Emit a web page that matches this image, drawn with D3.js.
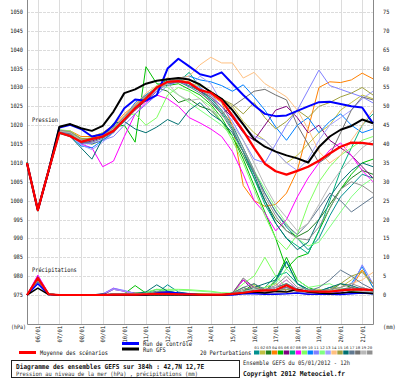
<!DOCTYPE html>
<html><head><meta charset="utf-8">
<script src="https://cdn.jsdelivr.net/npm/d3@7"></script>
<style>body{margin:0;background:#fff}svg{display:block}</style>
</head><body><svg id="c" width="400" height="378"></svg>
<script>
const hours = [0,12,24,36,48,60,72,84,96,108,120,132,144,156,168,180,192,204,216,228,240,252,264,276,288,300,312,324,336,348,360,372,384];
const dateLabels = ["06/01","07/01","08/01","09/01","10/01","11/01","12/01","13/01","14/01","15/01","16/01","17/01","18/01","19/01","20/01","21/01"];
const dateHours = [12,36,60,84,108,132,156,180,204,228,252,276,300,324,348,372];
const pressTicks = [1050,1045,1040,1035,1030,1025,1020,1015,1010,1005,1000,995,990,985,980,975];
const precTicks = [75,70,65,60,55,50,45,40,35,30,25,20,15,10,5,0];

const meanP = [1010,997.5,1008,1018,1017.1,1015.6,1016.4,1017,1018.5,1021.5,1024.5,1027,1030,1031.5,1031.7,1031.2,1029.3,1028.6,1026.5,1022.5,1018.5,1014,1009.8,1007.8,1006.9,1007.9,1009,1010.6,1012.5,1014.3,1015.4,1015.3,1014.9];
const gfsP = [1010,997.5,1008,1019.6,1020.3,1019.2,1018.5,1019.8,1023.6,1028.5,1029.5,1031,1031.8,1032.2,1032.5,1032.1,1030.8,1028.8,1027,1024,1020.2,1016.3,1014.3,1013,1012,1011.2,1010.1,1014.2,1017,1018.8,1019.8,1021.5,1020.5];
const ctlP = [1010,997.5,1008,1019.4,1020.1,1019,1017,1017.6,1020,1024.5,1026.8,1026.5,1028,1035,1037.6,1035.6,1033.5,1032.8,1034,1031,1028,1025.3,1023,1022.4,1022.6,1023.8,1025,1026.1,1026.2,1025.6,1025,1024.7,1020.5];

const p01 = [1010,997.8,1008,1018.5,1018,1015,1016.5,1017,1019,1022,1025,1027,1029.5,1031,1031.5,1030.5,1029,1027,1024,1020,1014,1008,1002,997,993,990,987,990,996,1001,1004,1007,1006];
const p02 = [1010,997.5,1007.5,1018,1017.5,1016,1016,1017.5,1019,1022,1024,1026.5,1029,1031.5,1032,1031,1030.5,1029,1027,1025,1021,1018,1016,1013,1010,1012,1015,1018,1020,1024,1026,1028,1027];
const p03 = [1009.8,997.2,1007.8,1018.2,1017.8,1015.5,1015,1016,1018,1021.5,1024.5,1027.5,1030,1029,1026,1027,1025,1024,1021,1017,1012,1006,1000,995,992,990.5,992,995,999,1003,1006,1008,1007];
const p04 = [1010,997.5,1008.2,1018.5,1018.5,1017,1017,1018,1020,1023,1025.5,1028,1030,1032.5,1032,1031.5,1029.5,1028,1026,1020,1004,1000,998.5,999,1002,1008,1019,1030,1031.5,1031.3,1032,1033.8,1032.3];
const p05 = [1010.2,997.6,1008,1018.3,1017,1016,1016.5,1017.5,1019.5,1020,1015.5,1035.5,1031,1030.5,1031,1029.5,1028,1025.5,1022,1017,1011,1004,997,990,982,985,986,992,998,1003,1007,1010,1011];
const p06 = [1010,997.4,1007.6,1018,1017.3,1015.2,1015.8,1016.8,1018.5,1021,1024,1026.5,1029,1031,1031.5,1031,1029,1027.5,1025,1022,1018,1016,1020,1024,1025,1022,1018,1020,1016,1014,1012,1009,1006];
const p07 = [1010,997.7,1008.3,1018.6,1018,1015.8,1016.2,1017,1018.8,1021.8,1024.8,1027,1030.5,1032,1031.5,1034,1030,1026.5,1023.5,1019,1013,1006,999,994,990,988,986,992,1000,1008,1014,1020,1023];
const p08 = [1010,997.5,1007.5,1018,1017.5,1015,1014,1009,1010.5,1017,1023,1026,1028,1027,1025,1022,1020.6,1019,1017,1013,1007,1000,996.7,992,995,1001,1006,1010,1013.4,1015.3,1012,1008,1005];
const p09 = [1010,998,1008.5,1018.8,1018.5,1016.5,1016.5,1017.5,1019.5,1022.5,1023,1020,1022,1028,1030,1029,1027,1025,1021,1016,1010,1003,996,990,987,991,999,1005,1009,1012,1014,1016,1017];
const p10 = [1010,997.3,1007.8,1018,1017,1014.5,1014,1016,1018,1022,1026,1028,1030,1031.5,1032.5,1033,1032,1031.5,1030.5,1029,1030.7,1027.5,1024,1019.5,1016,1020,1022,1018,1021,1023,1020,1018,1019];
const p11 = [1010,997.6,1008,1018.4,1017.8,1015,1015.2,1016,1017,1020,1023,1025.5,1028,1030.5,1031.5,1031,1030,1028,1025,1021,1016,1011,1010,1015,1020,1024,1029.3,1034.6,1030.5,1029.5,1028.5,1027.5,1025.9];
const p12 = [1010,997.5,1007.7,1018,1017.6,1016,1016.8,1018,1019,1022,1025,1027.5,1030.5,1030,1028,1026,1024,1022,1020,1017,1013,1008,1003,998,994,990,988,989,993,997,1001,1004,1006];
const p13 = [1010,997.7,1008.1,1018.3,1017.5,1014.8,1013.5,1015.5,1018,1021,1024.5,1027,1029,1031,1032,1030,1033,1031,1026,1023,1020,1017,1016,1013,1010,1008,1011,1016,1020,1022,1024,1027,1029];
const p14 = [1010,997.5,1008,1018.5,1018.2,1016.2,1016.5,1017.5,1019.5,1022.5,1025.5,1028.5,1030.5,1031,1032.5,1033,1036,1038,1036.5,1036.5,1032.5,1034,1031,1029.3,1027.5,1024,1019,1013,1010,1012,1016,1020,1024];
const p15 = [1010,997.4,1007.9,1018.4,1018.2,1016.5,1016.5,1017.8,1019,1021.5,1025,1027.5,1029.5,1031.5,1032.5,1032,1030.5,1029,1027,1025.5,1023,1026,1022,1019,1021,1024,1022,1025,1026,1027.5,1028.5,1030,1028];
const p16 = [1010,997.5,1007.5,1017.8,1017,1014,1011,1016.5,1020.5,1021,1019,1018,1019.5,1021.5,1020.2,1024,1026,1023,1021,1018,1013,1007,1000,994,990,987,989,995,1001,1005,1008,1010,1009];
const p17 = [1010,997.6,1008,1018.2,1017.7,1015.3,1015.5,1016.5,1018.2,1021,1024.2,1027,1029.5,1031,1031.5,1030.2,1028.5,1026.5,1023,1018.5,1013,1007.5,1002,997,993.5,991,994,998,1002,1000,997,999,1001];
const p18 = [1010,997.3,1007.6,1018,1017.4,1015.5,1016,1017,1018.6,1021.2,1024.7,1027.5,1030,1031.5,1032.2,1031,1029,1026,1023,1025,1027,1029,1029.5,1028,1026.7,1020,1015,1010,1012,1018,1024,1027.5,1026.7];
const p19 = [1010,997.5,1008,1018.5,1018,1016,1016.2,1017.2,1019,1022,1025,1027,1029.5,1031,1028,1026.5,1027,1024,1022.5,1020,1016,1010,1004,999,995.5,992,994,999,1004,1008,1011,1014,1016];
const p20 = [1010,997.6,1008.2,1018.7,1018.3,1016.2,1016,1017.3,1019.3,1022.3,1025.3,1027.8,1030,1031.5,1032,1031,1029.5,1027.5,1024,1019.5,1014,1008,1001,996,992,990,989.6,993,998,1003,1005,1004,1002];

const meanR = [0,4.5,0.2,0,0,0,0,0,0.1,0.1,0.1,0.2,0.3,0.3,0.2,0.2,0.1,0.1,0.1,0.3,0.6,1.0,1.2,1.3,2.6,1.2,1.0,0.9,0.9,1.2,1.4,1.5,1.3];
const gfsR = [0,1.8,0.1,0,0,0,0,0.2,0,0,0,0,0,0,0,0,0,0,0,0.2,0.5,0.8,0.5,1.0,0.8,1.5,0.8,0.5,0.3,0.5,0.8,0.6,0.4];
const ctlR = [0,3,0.1,0,0,0,0,0,0,0,0,0,0.5,0.8,0.5,0.3,0,0,0,0,0.3,0.3,0.2,0.2,0.3,0.5,0.2,0.2,0.2,0.1,0.3,0.5,0.3];
const r01 = [0,4.2,0.3,0,0,0,0,0,0.3,0.2,0,0,0.5,2.7,0.8,0.3,0.1,0,0,0.2,0.8,1.5,1,3.5,8.7,3,1.5,1,2,1.5,1,0.5,0.3];
const r02 = [0,3.8,0.2,0,0,0,0,0,0,0,0.3,0.4,0.6,0.5,0.4,0.2,0,0,0,0.3,1,2.5,1.2,1,1.5,1,0.8,1.5,1,2,4,6.6,2];
const r03 = [0,4.5,0.3,0,0,0,0,0,0.2,0.2,0.5,0.5,0.5,0.4,0.3,0.2,0,0,0,0.5,2,1,0.5,2,3,1.5,1,0.5,1,3,2,1,0.5];
const r04 = [0,4,0.2,0,0,0,0,0,0,0,0,0,0.2,0.3,0.2,0,0,0,0,0.3,0.5,1,2,3,1,0.5,0.3,0.5,0.8,1,2,6.6,3];
const r05 = [0,5,0.4,0,0,0,0,0,0.3,0.3,2.5,0.5,0.5,0.5,0.5,0.4,0.3,0.2,0.1,0.5,1,3,1,4,10,4,2,1,0.5,0.3,1,2,1];
const r06 = [0,3.5,0.2,0,0,0,0,0,1.5,1,0.5,0.3,0.3,0.3,0.2,0,0,0,0,0.5,4,1,0.5,1,2,1,0.5,0.5,0.3,0.8,2,1,0.5];
const r07 = [0,4.8,0.3,0,0,0,0,0,0.2,0.1,0.3,0.5,1.5,1,0.5,0.3,0.1,0,0,0.3,1,1.5,2,5,6,3,1,0.5,0.5,1,1.5,1,0.5];
const r08 = [0,5.3,0.4,0,0,0,0,0.2,1.8,1,0.3,0.2,0.2,0.3,0.2,0.1,0,0,0,0.5,4,2,1,2,4,1.5,1,0.5,1,0.5,0.8,1,0.5];
const r09 = [0,4.5,0.3,0,0,0,0,0,0.2,0.2,0.5,0.8,1.5,1.5,1.5,1.4,1.2,1,0.6,0.5,3,5,10,5,2,1,0.5,0.8,1,1.5,2,1.5,1];
const r10 = [0,3.5,0.2,0,0,0,0,0,0.3,0.3,0.2,0.2,0.3,0.3,0.2,0,0,0,0,0.2,0.3,0.5,0.3,0.5,1,0.5,0.3,0.5,1,2,3,7.5,2];
const r11 = [0,4,0.3,0,0,0,0,0.3,1.8,1.2,0.4,0.3,0.3,0.3,0.2,0.1,0,0,0,0.2,0.5,0.8,0.5,1,1.5,1,0.5,0.3,0.5,1,2,8,3];
const r12 = [0,4.2,0.3,0,0,0,0,0,0.2,0.2,0.3,0.5,1,1.2,1.3,1.2,1,0.8,0.5,0.5,1,1.5,2,3,7,4,2,2.5,3,1.5,1,0.8,0.5];
const r13 = [0,4,0.2,0,0,0,0,0.2,1.5,1,0.3,0.3,0.4,0.4,0.3,0.2,0,0,0,0.3,0.5,1,0.8,1,2,1,0.6,0.5,0.8,1,1.5,2,1];
const r14 = [0,3.8,0.2,0,0,0,0,0,0,0,0,0.2,0.3,0.3,0.2,0,0,0,0,0.2,0.3,0.5,0.3,0.5,0.8,0.5,0.3,0.5,1,2,3,4,6];
const r15 = [0,4.3,0.3,0,0,0,0,0,0.2,0.2,0.3,0.4,0.5,0.5,0.4,0.2,0,0,0,0.3,0.5,1,0.8,1.2,1.5,1,0.8,1,1.5,3,5,6,3];
const r16 = [0,4.4,0.3,0,0,0,0,0,0.2,0.3,0.4,0.8,2.7,1,0.5,0.3,0.1,0,0,0.5,1,2,3,4,9,3,1.5,1,2,3,2.5,1.5,1];
const r17 = [0,4,0.2,0,0,0,0,0,0.2,0.2,0.3,0.4,1,0.8,0.5,0.3,0,0,0,0.5,2,3,1.5,2,3,1.5,1,2,4,6.6,5,3,1.5];
const r18 = [0,3.6,0.2,0,0,0,0,0,0,0.2,0.2,0.3,0.4,0.4,0.3,0.2,0,0,0,0.5,4.5,2,1,1.5,2,1,0.8,0.5,0.8,1.5,2,1.5,1];
const r19 = [0,4.1,0.3,0,0,0,0,0,0.2,0.2,0.3,0.4,0.5,0.5,0.4,0.3,0.1,0,0,0.3,1,1.5,1,2,4,1.5,1,0.8,1,1.2,1.5,1,0.8];
const r20 = [0,4,0.3,0,0,0,0,0,0.2,0.2,0.3,0.3,0.4,0.5,0.3,0.2,0,0,0,0.4,1.5,2,1.5,2.5,5,2,1.5,1,1.5,2,3,2,1];

const memberNames = ["01","02","03","04","05","06","07","08","09","10","11","12","13","14","15","16","17","18","19","20"];
const memberColors = ["#009090","#c0c040","#208020","#ff8000","#00c000","#800080","#00b080","#ff00ff","#80ff60","#0080ff","#8080ff","#80ff80","#a0a0ff","#ffc080","#a0a040","#007070","#607890","#707070","#b8b8b8","#909090"];
const memberP = [p01,p02,p03,p04,p05,p06,p07,p08,p09,p10,p11,p12,p13,p14,p15,p16,p17,p18,p19,p20];
const memberR = [r01,r02,r03,r04,r05,r06,r07,r08,r09,r10,r11,r12,r13,r14,r15,r16,r17,r18,r19,r20];

const svg = d3.select("#c");
svg.append("rect").attr("width",400).attr("height",378).attr("fill","#fff");
const x = d3.scaleLinear().domain([0,384]).range([27,373]);
const yP = d3.scaleLinear().domain([975,1050]).range([295,12]);
const yR = d3.scaleLinear().domain([0,75]).range([295,12]);
const FONT = "'DejaVu Sans Mono', 'Liberation Mono', monospace";

function txt(g, xx, yy, s, o) {
  o = o || {};
  const t = g.append("text").attr("x", xx).attr("y", yy).text(s)
    .attr("font-family", FONT).attr("font-size", o.size || 6.2)
    .attr("fill", o.fill || "#111");
  if (o.bold) t.attr("font-weight", "bold");
  if (o.anchor) t.attr("text-anchor", o.anchor);
  if (o.cw) t.attr("textLength", s.length * o.cw).attr("lengthAdjust", "spacingAndGlyphs");
  if (o.rot) t.attr("transform", `rotate(-90 ${xx} ${yy})`);
  return t;
}

// grid
const grid = svg.append("g");
pressTicks.forEach(v => {
  grid.append("line").attr("x1",27).attr("x2",373).attr("y1",Math.round(yP(v))+0.5).attr("y2",Math.round(yP(v))+0.5)
    .attr("stroke","#dcdcdc").attr("stroke-width",1).attr("stroke-dasharray","3,1");
});
dateHours.forEach(h => {
  grid.append("line").attr("x1",Math.round(x(h))+0.5).attr("x2",Math.round(x(h))+0.5).attr("y1",0).attr("y2",324)
    .attr("stroke","#dcdcdc").attr("stroke-width",1);
});

// axes frame
const ax = svg.append("g").attr("stroke","#888").attr("stroke-width",1);
ax.append("line").attr("x1",27.5).attr("x2",27.5).attr("y1",0).attr("y2",324.5);
ax.append("line").attr("x1",373.5).attr("x2",373.5).attr("y1",0).attr("y2",324.5);
ax.append("line").attr("x1",27.5).attr("x2",373.5).attr("y1",324.5).attr("y2",324.5);

// tick labels
const lab = svg.append("g");
pressTicks.forEach(v => txt(lab, 23, yP(v)+2, String(v), {anchor:"end", size:6, cw:3.2}));
precTicks.forEach(v => txt(lab, 383, yR(v)+2, String(v), {size:6, cw:3.2}));
dateLabels.forEach((d,i) => txt(lab, x(dateHours[i])+2.5, 326, d, {anchor:"end", size:6, cw:3.3, rot:true}));
txt(lab, 11, 329, "(hPa)", {size:6, cw:3.0});
txt(lab, 383, 329, "(mm)", {size:6, cw:3.2});
txt(lab, 32, 121.5, "Pression", {size:6.2, cw:3.25});
txt(lab, 32, 272, "Précipitations", {size:6.2, cw:3.2});

// lines
const lineP = d3.line().x((d,i)=>x(hours[i])).y(d=>yP(d));
const lineR = d3.line().x((d,i)=>x(hours[i])).y(d=>yR(d));
const lines = svg.append("g").attr("fill","none").attr("stroke-linejoin","round");
memberP.forEach((s,k) => lines.append("path").attr("d", lineP(s)).attr("stroke", memberColors[k]).attr("stroke-width",1));
memberR.forEach((s,k) => lines.append("path").attr("d", lineR(s)).attr("stroke", memberColors[k]).attr("stroke-width",1));
lines.append("path").attr("d", lineR(ctlR)).attr("stroke","#0000ff").attr("stroke-width",1.5);
lines.append("path").attr("d", lineR(gfsR)).attr("stroke","#000").attr("stroke-width",1.5);
lines.append("path").attr("d", lineP(ctlP)).attr("stroke","#0000ff").attr("stroke-width",2);
lines.append("path").attr("d", lineP(gfsP)).attr("stroke","#000").attr("stroke-width",2);
lines.append("path").attr("d", lineR(meanR)).attr("stroke","#ff0000").attr("stroke-width",2.2);
lines.append("path").attr("d", lineP(meanP)).attr("stroke","#ff0000").attr("stroke-width",2.3);

// legend
const lg = svg.append("g");
lg.append("line").attr("x1",122).attr("x2",139).attr("y1",343.5).attr("y2",343.5).attr("stroke","#0000ff").attr("stroke-width",3);
txt(lg, 143, 346, "Run de contrôle", {size:6.2, cw:3.27});
lg.append("line").attr("x1",122).attr("x2",139).attr("y1",349).attr("y2",349).attr("stroke","#000").attr("stroke-width",3);
txt(lg, 143, 351.5, "Run GFS", {size:6.2, cw:3.27});
lg.append("line").attr("x1",19).attr("x2",36).attr("y1",352.5).attr("y2",352.5).attr("stroke","#ff0000").attr("stroke-width",3);
txt(lg, 40, 355, "Moyenne des scénarios", {size:6.2, cw:3.24});
txt(lg, 200, 355, "20 Perturbations", {size:6.2, cw:3.2});
memberNames.forEach((n,k) => {
  const sx = 254 + k*5.95;
  lg.append("rect").attr("x",sx).attr("y",350.5).attr("width",5.4).attr("height",4).attr("fill",memberColors[k]);
  txt(lg, sx+2.7, 348.5, n, {anchor:"middle", size:3.6, cw:2.5, fill:"#333"});
});

// title box
const tb = svg.append("g");
tb.append("rect").attr("x",11.5).attr("y",360.5).attr("width",228).attr("height",17).attr("fill","none").attr("stroke","#222").attr("stroke-width",1);
txt(tb, 16, 368.5, "Diagramme des ensembles GEFS sur 384h : 42,7N 12,7E", {size:6.8, cw:3.69, bold:true});
txt(tb, 16, 376, "Pression au niveau de la mer (hPa) , précipitations (mm)", {size:6, cw:3.25, fill:"#333"});
txt(tb, 243, 364.5, "Ensemble GEFS du 05/01/2012 - 12h", {size:6.2, cw:3.24, fill:"#222"});
txt(tb, 243, 375.5, "Copyright 2012 Meteociel.fr", {size:6.8, cw:3.78, bold:true});
</script></body></html>
